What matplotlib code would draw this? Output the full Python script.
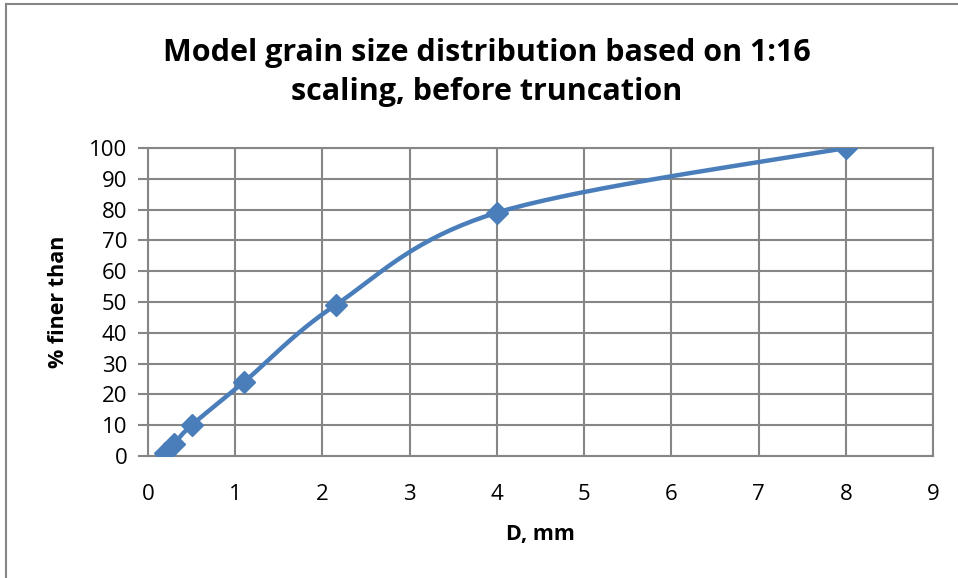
import numpy as np
import matplotlib.pyplot as plt

# grain size (mm) and cumulative % finer
d_mm = [0.2, 0.3, 0.5, 1.1, 2.15, 4.0, 8.0]
pct_finer = [1, 4, 10, 24, 49, 79, 100]

x_ticks = list(range(0, 10))
y_ticks = list(range(0, 101, 10))


def smooth(x, y, n=40):
    # Catmull-Rom style bezier, similar to Excel's smoothed line
    x = np.asarray(x, float)
    y = np.asarray(y, float)
    px = np.concatenate([[x[0]], x, [x[-1]]])
    py = np.concatenate([[y[0]], y, [y[-1]]])
    xs, ys = [], []
    t = np.linspace(0, 1, n)
    for i in range(1, len(px) - 2):
        p0 = np.array([px[i], py[i]])
        p3 = np.array([px[i + 1], py[i + 1]])
        p1 = p0 + (np.array([px[i + 1], py[i + 1]]) - np.array([px[i - 1], py[i - 1]])) / 6
        p2 = p3 - (np.array([px[i + 2], py[i + 2]]) - np.array([px[i], py[i]])) / 6
        b = ((1 - t) ** 3)[:, None] * p0 + (3 * (1 - t) ** 2 * t)[:, None] * p1 \
            + (3 * (1 - t) * t ** 2)[:, None] * p2 + (t ** 3)[:, None] * p3
        xs.extend(b[:, 0])
        ys.extend(b[:, 1])
    return xs, ys


plt.rcParams['font.family'] = ['Open Sans', 'DejaVu Sans']

fig = plt.figure(figsize=(9.58, 5.78), dpi=100)
ax = fig.add_axes([0.1545, 0.2111, 0.8194, 0.5329])

sx, sy = smooth(d_mm, pct_finer)
ax.plot(sx, sy, color='#4a7ebb', lw=3.2, zorder=3, solid_capstyle='round')
ax.plot(d_mm, pct_finer, ls='none', marker='D', ms=11, color='#4a7ebb', zorder=4)

ax.set_xlim(0, 9)
ax.set_ylim(0, 100)
ax.set_xticks(x_ticks)
ax.set_yticks(y_ticks)
ax.grid(True, color='#868686', lw=1.5)
ax.set_axisbelow(True)
for s in ax.spines.values():
    s.set_color('#868686')
    s.set_linewidth(1.5)
ax.tick_params(axis='x', length=0, labelsize=16, pad=20)
ax.tick_params(axis='y', length=7, width=1.5, color='#868686', labelsize=16, pad=8)

ax.set_xlabel('D, mm', fontsize=15.5, fontweight='bold', labelpad=14)
ax.set_ylabel('% finer than', fontsize=15.5, fontweight='bold', labelpad=14)
fig.text(0.508, 0.8746, 'Model grain size distribution based on 1:16\nscaling, before truncation',
         ha='center', va='center', fontsize=22, fontweight='bold', linespacing=1.42)

# outer chart border (left and top visible)
fig.add_artist(plt.Line2D([0.006, 0.006], [0, 0.993], color='#868686', lw=1.5))
fig.add_artist(plt.Line2D([0.006, 1], [0.993, 0.993], color='#868686', lw=1.5))

fig.savefig('out.png', dpi=100)
